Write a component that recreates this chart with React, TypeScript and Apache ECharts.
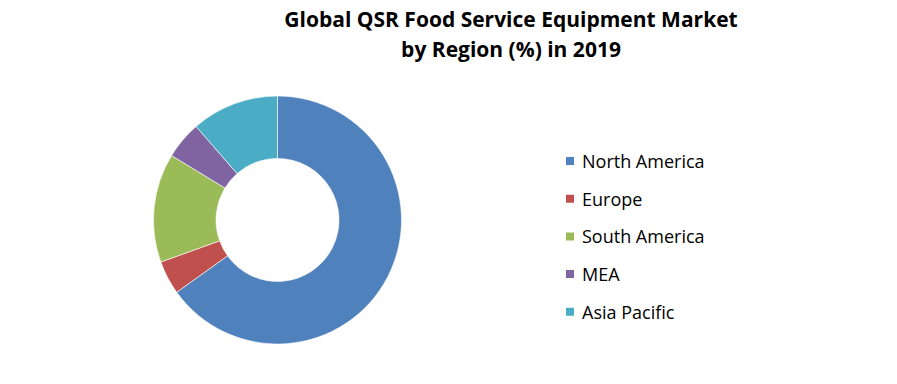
import React, { useEffect, useRef } from "react";
import * as echarts from "echarts";

const regions = ["North America", "Europe", "South America", "MEA", "Asia Pacific"];
const shares = [65.1, 4.4, 14.2, 4.9, 11.4];
const colors = ["#4F81BD", "#C0504D", "#9BBB59", "#8064A2", "#4BACC6"];
const titleLines = ["Global QSR Food Service Equipment Market", "by Region (%) in 2019"];

export default function App() {
  const ref = useRef<HTMLDivElement>(null);
  useEffect(() => {
    document.body.style.margin = "0";
    const chart = echarts.init(ref.current!, null, { renderer: "svg" });
    chart.setOption({
      animation: false,
      backgroundColor: "#ffffff",
      title: {
        text: titleLines.join("\n"),
        left: 506,
        top: -1,
        padding: 5,
        textAlign: "center",
        textStyle: {
          fontFamily: "Open Sans",
          fontWeight: "bold",
          fontSize: 21,
          lineHeight: 30,
          color: "#000",
        },
      },
      legend: {
        orient: "vertical",
        left: 564,
        top: 152,
        padding: 0,
        itemWidth: 10,
        itemHeight: 10,
        itemGap: 19.7,
        icon: "rect",
        textStyle: {
          fontFamily: "Open Sans",
          fontSize: 18,
          lineHeight: 18,
          color: "#000",
          padding: [0, 0, 0, 2],
        },
        data: regions,
      },
      series: [
        {
          type: "pie",
          center: [277.5, 220],
          radius: [61.5, 124],
          startAngle: 90,
          clockwise: true,
          label: { show: false },
          labelLine: { show: false },
          emphasis: { disabled: true },
          itemStyle: { borderColor: "#ffffff", borderWidth: 0.6 },
          data: regions.map((r, i) => ({
            name: r,
            value: shares[i],
            itemStyle: { color: colors[i] },
          })),
        },
      ],
    });
    return () => chart.dispose();
  }, []);
  return <div ref={ref} style={{ width: 897, height: 384 }} />;
}
